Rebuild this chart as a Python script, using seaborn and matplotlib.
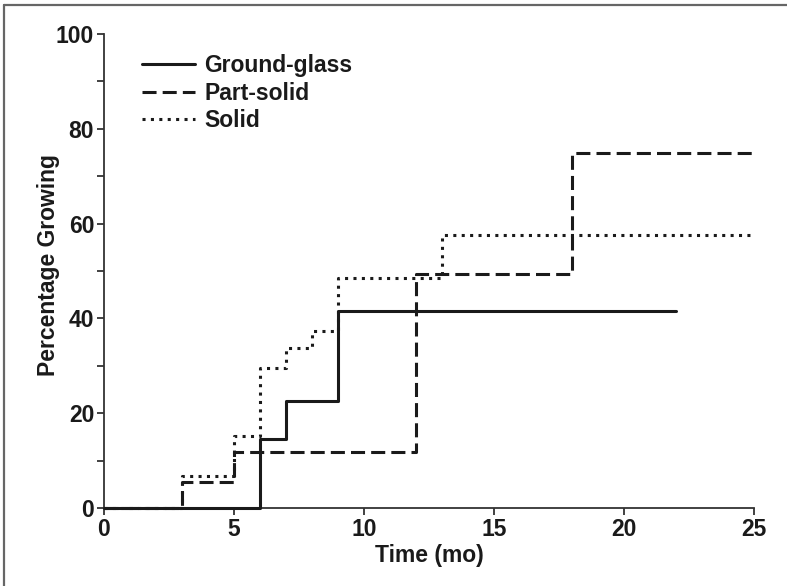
import numpy as np
import pandas as pd
import matplotlib
matplotlib.use("Agg")
import matplotlib.pyplot as plt
from matplotlib.lines import Line2D
from matplotlib.ticker import MultipleLocator
import seaborn as sns

# Data (Kaplan-Meier style step curves)
gg_time = [0, 6, 7, 9, 22]
gg_pct = [0, 14.5, 22.5, 41.5, 41.5]

ps_time = [0, 3, 5, 12, 18, 25]
ps_pct = [0, 5.5, 11.8, 49.3, 75, 75]

so_time = [0, 3, 5, 6, 7, 8, 9, 13, 25]
so_pct = [0, 6.8, 15.1, 29.5, 33.7, 37.4, 48.5, 57.6, 57.6]

labels = ["Ground-glass", "Part-solid", "Solid"]
x_ticks = [0, 5, 10, 15, 20, 25]
y_ticks = [0, 20, 40, 60, 80, 100]

sns.set_style("ticks")
plt.rcParams['font.family'] = ['Liberation Sans', 'DejaVu Sans']
plt.rcParams['font.weight'] = 'bold'

fig = plt.figure(figsize=(7.87, 5.86), dpi=100)
ax = fig.add_axes([0.132, 0.133, 0.826, 0.809])

series = [
    (gg_time, gg_pct, labels[0], dict(linestyle='-', linewidth=2.2)),
    (ps_time, ps_pct, labels[1], dict(linestyle=(0, (4.6, 2.0)), linewidth=2.2)),
    (so_time, so_pct, labels[2], dict(linestyle=(0, (1, 1.75)), linewidth=2.2)),
]
for t, p, lab, st in series:
    df = pd.DataFrame({"time": t, "pct": p})
    sns.lineplot(data=df, x="time", y="pct", ax=ax, color="#1a1a1a",
                 drawstyle="steps-post", estimator=None, sort=False,
                 label=lab, clip_on=False, zorder=3, **st)

ax.set_xlim(0, 25)
ax.set_ylim(0, 100)
ax.set_xticks(x_ticks)
ax.set_yticks(y_ticks)
ax.yaxis.set_minor_locator(MultipleLocator(10))
ax.tick_params(axis='both', which='major', direction='out', length=5, width=1.3,
               colors='#333333', labelsize=16.5, labelcolor='#1a1a1a', pad=2)
ax.tick_params(axis='y', which='minor', direction='out', length=5, width=1.3,
               colors='#333333')
for lbl in ax.get_xticklabels() + ax.get_yticklabels():
    lbl.set_fontweight('bold')

sns.despine(ax=ax)
for s in ['left', 'bottom']:
    ax.spines[s].set_linewidth(1.3)
    ax.spines[s].set_color('#333333')

ax.set_xlabel("Time (mo)", fontsize=16.5, fontweight='bold', color='#1a1a1a')
ax.set_ylabel("Percentage Growing", fontsize=16.5, fontweight='bold', color='#1a1a1a')
ax.xaxis.set_label_coords(0.5, -0.076)
ax.yaxis.set_label_coords(-0.068, 0.513)

leg = ax.legend(loc='upper left', bbox_to_anchor=(0.045, 0.977), frameon=False,
                handlelength=2.3, handletextpad=0.4, labelspacing=0.2,
                borderaxespad=0.0, prop={'size': 16.5, 'weight': 'bold'})
for txt in leg.get_texts():
    txt.set_color('#1a1a1a')

# figure frame (top and left edges)
fig.add_artist(Line2D([0.0057, 1.0], [0.9915, 0.9915], transform=fig.transFigure,
                      color='#666666', linewidth=1.6))
fig.add_artist(Line2D([0.0057, 0.0057], [0.0, 0.9915], transform=fig.transFigure,
                      color='#666666', linewidth=1.6))

fig.savefig("out.png", dpi=100)
